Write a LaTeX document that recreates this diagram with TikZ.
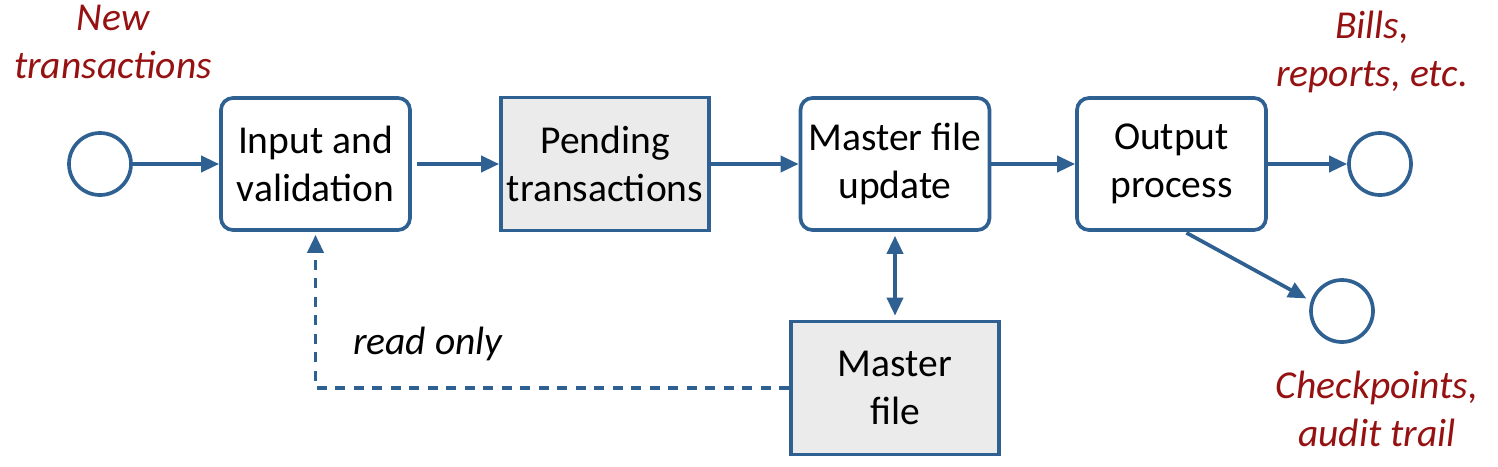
\documentclass[tikz,border=0pt]{standalone}
\usepackage{fontspec}
\setmainfont{Carlito}
\usepackage{xcolor}
\usepackage{tikz}
\usetikzlibrary{arrows.meta, positioning, shapes}
\definecolor{flowblue}{RGB}{46,96,146}
\definecolor{notered}{RGB}{150,18,18}
\definecolor{storegrey}{RGB}{235,235,235}

\begin{document}
\begin{tikzpicture} [node distance = 3cm, on grid, auto,
  proc/.style = {rectangle, draw=flowblue, line width=2.1pt, rounded corners=0.24cm,
    minimum width=3.78cm, minimum height=2.64cm, align=center, inner sep=0pt,
    font=\fontsize{22.5}{27.5}\selectfont},
  store/.style = {proc, sharp corners, fill=storegrey, minimum width=4.16cm, minimum height=2.66cm},
  term/.style = {circle, draw=flowblue, line width=2.1pt, minimum size=1.24cm, inner sep=0pt},
  note/.style = {align=center, text=notered, font=\fontsize{22.5}{27.5}\selectfont\itshape},
  flow/.style = {-{Triangle[length=0.36cm,width=0.32cm]}, draw=flowblue, line width=2.1pt}]
\useasboundingbox (0,0) rectangle (29.96,-9.32);
\node (new) [term] at (2.0,-3.28) {};
\node (inp) [proc, right=4.31cm of new] {Input and\\validation};
\node (pend) [store, right=5.79cm of inp] {Pending\\transactions};
\node (upd) [proc, right=5.8cm of pend] {Master file\\update};
\node (outp) [proc, right=5.53cm of upd] {Output\\process};
\node (bills) [term, right=4.17cm of outp] {};
\node (chk) [term, below left=2.94cm and 0.76cm of bills] {};
\node (master) [store, below=4.48cm of upd] {Master\\file};
\node (newlab) [note, above=2.44cm of new, xshift=0.26cm] {New\\transactions};
\node (billlab) [note, above=2.24cm of bills, xshift=-0.16cm] {Bills,\\reports, etc.};
\node (chklab) [note, below=1.96cm of chk, xshift=0.7cm] {Checkpoints,\\audit trail};

\path
    (new) edge [flow] (inp)
    (inp) edge [flow, shorten <=0.1cm] (pend)
    (pend) edge [flow] (upd)
    (upd) edge [flow] (outp)
    (outp) edge [flow] (bills);

\draw [flow, shorten <=0.04cm, shorten >=0.1cm] (outp.-79) -- (chk.162);

\draw [flow, {Triangle[length=0.36cm,width=0.32cm]}-{Triangle[length=0.36cm,width=0.32cm]},
    shorten <=0.08cm, shorten >=0.08cm] (upd.south) -- (master.north);

\draw [flow, dash pattern=on 0.2cm off 0.17cm, shorten >=0.06cm] (master.west) -|
    node [pos=0.64, right=0.6cm, font=\fontsize{22.5}{27.5}\selectfont\itshape] {read only} (inp.south);
\end{tikzpicture}
\end{document}
